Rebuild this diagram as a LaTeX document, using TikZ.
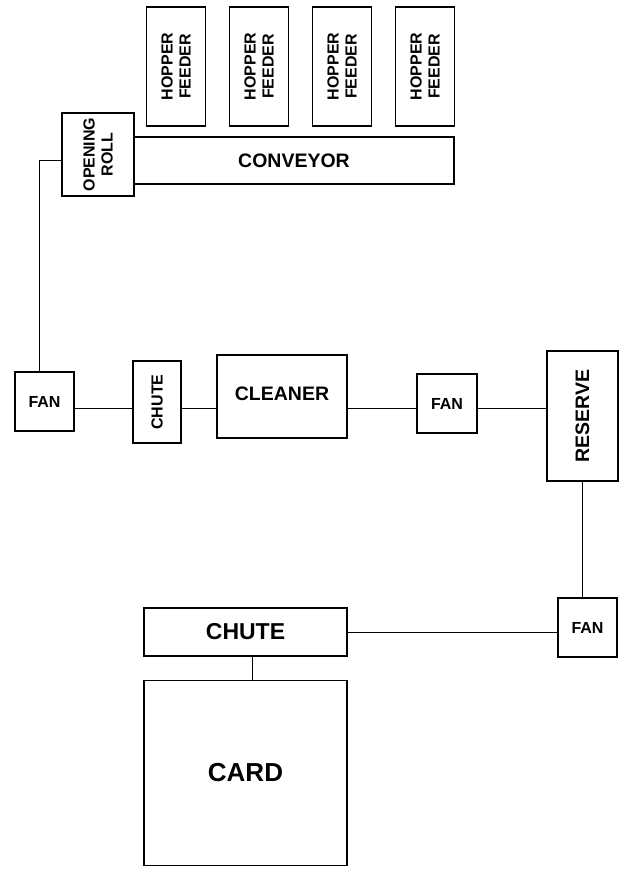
\documentclass[tikz,border=0pt]{standalone}
\usepackage{fontspec}
\setmainfont{Liberation Sans}
\usetikzlibrary{positioning}

\begin{document}
\begin{tikzpicture}[
    x=1pt, y=-1pt, % one unit per pixel, y running down the page
    box/.style={draw, line width=1.2pt, inner sep=0pt}, % block outline
    flow/.style={line width=0.9pt}, % connecting line
    txt/.style={font=\bfseries\fontsize{16}{18}\selectfont, align=center},
    bigtxt/.style={font=\bfseries\fontsize{19.5}{22}\selectfont, align=center},
    vtxt/.style={txt, rotate=90}, % text reading upwards
    bigvtxt/.style={bigtxt, rotate=90}
]
    \useasboundingbox (0,0) rectangle (623,869);

    % --- Feed line ---
    \foreach \i/\x in {1/176, 2/259, 3/342, 4/425}
        \node[box, minimum width=59pt, minimum height=119pt,
              label={[vtxt]center:HOPPER\\FEEDER}] (hop\i) at (\x,66.5) {};
    \node[box, minimum width=320pt, minimum height=47pt, bigtxt] (conveyor) at (294,160.5) {CONVEYOR};
    \node[box, minimum width=72pt, minimum height=83pt,
          label={[vtxt]center:OPENING\\ROLL}] (roll) at (98,154.5) {};

    % --- Cleaning line ---
    \coordinate (row) at (0,408); % height of the horizontal run
    \node[box, minimum width=59pt, minimum height=59pt, txt] (fan1) at (44.5,401.5) {FAN};
    \node[box, minimum width=48pt, minimum height=82pt,
          label={[vtxt]center:CHUTE}] (chute1) at (157,402) {};
    \node[box, minimum width=130pt, minimum height=83pt, bigtxt, yshift=3pt,
          text depth=6pt] (cleaner) at (282,399.5) {CLEANER};
    \node[box, minimum width=60pt, minimum height=59pt, txt] (fan2) at (447,403.5) {FAN};
    \node[box, minimum width=71pt, minimum height=130pt,
          label={[bigvtxt]center:RESERVE}] (reserve) at (582.5,416) {};

    % --- Card feed ---
    \node[box, minimum width=59pt, minimum height=59pt, txt] (fan3) at (587.5,627.5) {FAN};
    \node[box, minimum width=203pt, minimum height=48pt,
          font=\bfseries\fontsize{23}{26}\selectfont] (chute2) at (245.5,632) {CHUTE};
    \node[box, minimum width=203pt, minimum height=185pt, below=23pt of chute2,
          font=\bfseries\fontsize{26}{30}\selectfont] (card) {CARD};

    % --- Connections ---
    \draw[flow] ([yshift=-5.5pt]roll.west) -| ([xshift=-5.5pt]fan1.north);
    \draw[flow] (fan1.east |- row) -- (chute1.west |- row);
    \draw[flow] (chute1.east |- row) -- (cleaner.west |- row);
    \draw[flow] (cleaner.east |- row) -- (fan2.west |- row);
    \draw[flow] (fan2.east |- row) -- (reserve.west |- row);
    \draw[flow] (reserve.south) -- (reserve.south |- fan3.north);
    \draw[flow] (chute2.east) -- (chute2.east -| fan3.west);
    \draw[flow] ([xshift=6.5pt]chute2.south) -- ([xshift=6.5pt]card.north);

\end{tikzpicture}
\end{document}
